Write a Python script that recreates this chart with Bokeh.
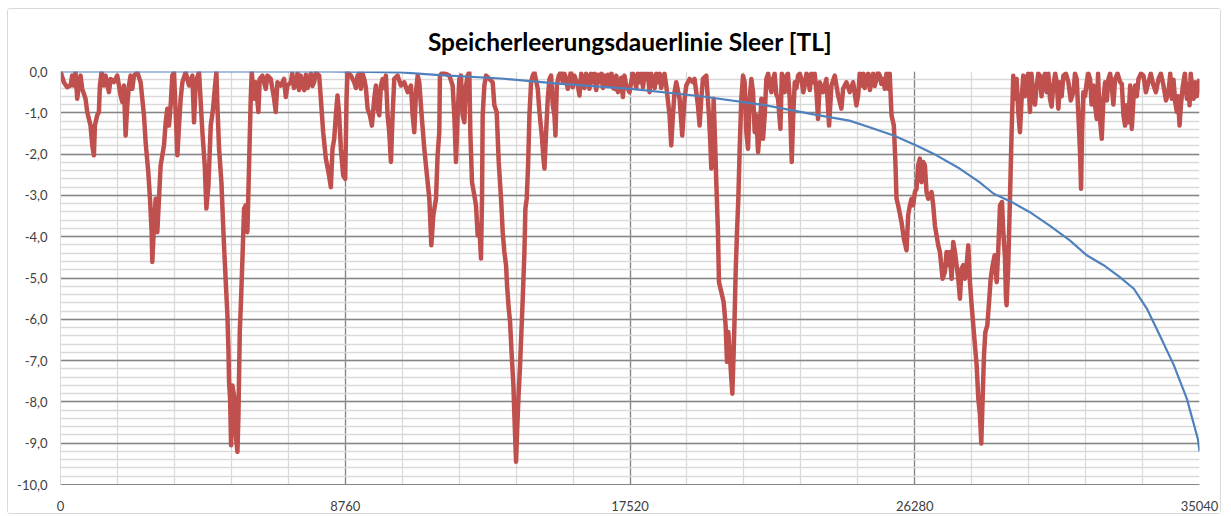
from bokeh.plotting import figure
from bokeh.models import Range1d, FixedTicker, CustomJSTickFormatter
from bokeh.embed import file_html
from bokeh.resources import INLINE

title_text = "Speicherleerungsdauerlinie Sleer [TL]"

x_tick_labels = [0, 8760, 17520, 26280, 35040]
y_tick_values = [0, -1, -2, -3, -4, -5, -6, -7, -8, -9, -10]

# red series: storage level over the hours of the period (main readings)
hours = [0, 103, 205, 308, 359, 411, 462, 514, 565, 616, 668, 770, 822, 924, 976, 1027, 1058, 1130, 1181, 1212,
         1263, 1335, 1386, 1489, 1541, 1643, 1746, 1849, 1900, 1951, 2003, 2054, 2105, 2157, 2208, 2259, 2362,
         2465, 2568, 2619, 2701, 2753, 2804, 2824, 2876, 2927, 2978, 3030, 3081, 3132, 3184, 3235, 3286, 3338,
         3389, 3440, 3492, 3543, 3595, 3646, 3697, 3749, 3851, 3954, 4057, 4108, 4160, 4262, 4365, 4437, 4488,
         4550, 4622, 4694, 4755, 4796, 4827, 4878, 4950, 5012, 5084, 5135, 5166, 5186, 5217, 5248, 5289, 5351,
         5392, 5443, 5474, 5515, 5556, 5597, 5648, 5700, 5749, 5801, 5852, 5883, 5955, 6006, 6088, 6129, 6212,
         6314, 6366, 6468, 6571, 6622, 6674, 6776, 6879, 6930, 6982, 7084, 7239, 7444, 7649, 7803, 7855, 7957,
         8009, 8081, 8163, 8245, 8317, 8368, 8420, 8471, 8522, 8574, 8625, 8697, 8759, 8800, 8830, 8933, 9036,
         9138, 9241, 9344, 9447, 9518, 9580, 9652, 9703, 9755, 9806, 9857, 9909, 10011, 10063, 10114, 10165,
         10217, 10268, 10371, 10474, 10576, 10679, 10782, 10833, 10884, 10936, 10987, 11038, 11110, 11192,
         11264, 11347, 11408, 11470, 11552, 11601, 11653, 11673, 11755, 11961, 12064, 12115, 12166, 12218,
         12269, 12320, 12372, 12423, 12474, 12526, 12577, 12608, 12659, 12731, 12782, 12834, 12885, 12936,
         12967, 12988, 13039, 13091, 13193, 13296, 13347, 13419, 13481, 13553, 13604, 13655, 13707, 13738,
         13789, 13830, 13881, 13933, 13963, 14015, 14046, 14087, 14138, 14179, 14220, 14272, 14302, 14343,
         14385, 14426, 14477, 14528, 14580, 14682, 14734, 14816, 14857, 14888, 14939, 14990, 15042, 15093,
         15145, 15196, 15227, 15268, 15329, 15453, 15555, 15607, 15658, 15812, 15915, 15966, 16069, 16223,
         16274, 16377, 16582, 16788, 16890, 17044, 17147, 17199, 17301, 17404, 17505, 17556, 17659, 17813,
         18018, 18121, 18224, 18378, 18532, 18634, 18737, 18788, 18840, 18891, 18943, 19045, 19127, 19199,
         19251, 19353, 19456, 19507, 19610, 19661, 19713, 19764, 19867, 19949, 19990, 20021, 20072, 20093,
         20144, 20175, 20226, 20257, 20329, 20401, 20462, 20504, 20545, 20586, 20637, 20668, 20709, 20740,
         20771, 20812, 20853, 20894, 20945, 20997, 21048, 21099, 21151, 21202, 21253, 21305, 21356, 21407,
         21459, 21510, 21561, 21613, 21664, 21715, 21818, 21921, 22075, 22147, 22229, 22332, 22434, 22496,
         22537, 22588, 22691, 22794, 22896, 22999, 23153, 23256, 23305, 23357, 23459, 23562, 23644, 23716,
         23819, 23922, 24024, 24076, 24178, 24281, 24384, 24486, 24538, 24640, 24795, 24949, 25103, 25205,
         25308, 25359, 25462, 25565, 25637, 25688, 25719, 25770, 25873, 25945, 26027, 26078, 26130, 26181,
         26232, 26284, 26335, 26386, 26438, 26489, 26540, 26592, 26643, 26694, 26797, 26849, 26900, 26951,
         27003, 27054, 27136, 27208, 27259, 27311, 27362, 27413, 27465, 27516, 27567, 27619, 27670, 27721,
         27773, 27824, 27876, 27927, 27978, 28030, 28081, 28132, 28184, 28235, 28286, 28327, 28368, 28410,
         28451, 28512, 28574, 28615, 28677, 28738, 28800, 28851, 28903, 28964, 29005, 29057, 29087, 29106,
         29157, 29209, 29260, 29311, 29363, 29414, 29465, 29517, 29568, 29620, 29722, 29825, 29928, 30030,
         30133, 30236, 30338, 30441, 30544, 30647, 30698, 30749, 30852, 31006, 31160, 31263, 31314, 31365,
         31396, 31427, 31468, 31571, 31674, 31776, 31828, 31879, 31961, 32033, 32084, 32136, 32239, 32341,
         32444, 32598, 32701, 32752, 32803, 32855, 32906, 32957, 33009, 33060, 33163, 33317, 33471, 33625,
         33779, 33933, 34087, 34190, 34292, 34344, 34426, 34467, 34529, 34652, 34734, 34806, 34857, 34908,
         35011, 35040]
sleer = [0, -0.26, -0.38, -0.34, -0.10, -0.34, -0.02, -0.66, -0.34, -0.10, -0.42, -0.66, -0.98, -1.31, -1.79,
         -2.03, -1.31, -1.06, -0.98, -0.34, -0.02, -0.34, -0.10, -0.50, -0.18, -0.26, -0.10, -0.58, -0.74, -0.34,
         -1.55, -0.82, -0.34, -0.10, -0.42, -0.10, -0.02, -0.26, -1.06, -1.71, -2.44, -3.08, -3.89, -4.61, -3.73,
         -3.08, -3.89, -3.08, -2.27, -2.03, -1.79, -1.23, -0.90, -1.31, -0.82, -0.10, -0.02, -0.98, -2.03, -1.31,
         -0.66, -0.26, -0.02, -0.34, -0.10, -1.23, -0.26, -0.02, -1.47, -2.27, -3.32, -2.76, -1.31, -0.90, -0.34,
         -0.02, -0.82, -1.87, -2.68, -3.89, -5.10, -5.90, -6.71, -7.52, -7.92, -9.05, -7.60, -7.92, -8.81, -9.21,
         -8.32, -6.31, -5.50, -4.53, -3.32, -3.24, -3.89, -2.27, -0.66, -0.02, -0.66, -0.26, -0.98, -0.18, -0.10,
         -0.42, -0.10, -0.18, -0.66, -0.98, -0.26, -0.34, -0.18, -0.62, -0.34, -0.26, -0.34, -0.30, -0.26, -0.26,
         -0.02, -0.10, -0.66, -1.47, -2.11, -2.44, -2.80, -1.87, -1.63, -1.06, -0.58, -1.06, -1.87, -2.52, -2.60,
         -0.66, -0.02, -0.10, -0.26, -0.10, -0.42, -0.18, -0.90, -1.06, -1.31, -0.66, -0.34, -0.90, -1.06, -0.34,
         -0.18, -0.10, -1.06, -1.47, -2.19, -1.06, -0.18, -0.10, -0.34, -0.26, -0.50, -0.34, -1.06, -1.47, -0.50,
         -0.10, -0.26, -1.06, -1.87, -2.44, -3.08, -4.21, -3.48, -3.08, -2.03, -1.47, -0.10, -0.02, -0.10, -0.34,
         -1.06, -2.19, -1.06, -0.18, -0.10, -1.06, -1.23, -0.34, -0.10, -0.02, -1.47, -2.68, -3.00, -3.24, -3.97,
         -3.73, -4.53, -3.08, -1.06, -0.34, -0.10, -0.18, -0.26, -0.82, -0.98, -2.19, -3.08, -3.89, -4.37, -4.69,
         -5.18, -5.74, -6.06, -6.87, -7.60, -8.32, -9.45, -8.73, -7.92, -7.11, -6.31, -5.50, -4.37, -3.32, -3.08,
         -2.27, -1.06, -0.26, -0.10, -0.02, -0.42, -0.98, -1.63, -2.11, -2.35, -1.47, -0.66, -0.18, -0.10, -0.82,
         -1.06, -1.55, -0.34, -0.10, -0.26, -0.18, -0.42, -0.18, -0.10, -0.34, -0.58, -0.26, -0.18, -0.42, -0.26,
         -0.26, -0.34, -0.34, -0.42, -0.50, -0.42, -0.62, -0.34, -0.50, -0.26, -0.18, -0.26, -0.18, -0.50, -0.18,
         -0.26, -0.18, -0.34, -1.06, -1.79, -1.06, -0.50, -0.26, -0.66, -1.55, -0.66, -0.34, -0.18, -0.26, -0.18,
         -0.82, -1.31, -0.66, -0.18, -0.10, -1.06, -1.71, -2.35, -1.47, -0.66, -1.87, -2.68, -3.89, -5.10, -5.34,
         -5.58, -6.15, -7.03, -6.31, -6.79, -7.44, -7.80, -6.79, -5.90, -4.85, -3.89, -3.08, -1.87, -0.66, -0.10,
         -0.26, -1.47, -1.87, -0.66, -0.18, -0.50, -1.47, -1.06, -1.95, -1.47, -0.66, -1.63, -1.06, -0.18, -0.34,
         -0.18, -0.66, -1.39, -0.34, -0.10, -0.66, -2.19, -1.15, -0.26, -0.10, -0.18, -0.34, -0.10, -0.26, -0.50,
         -1.15, -0.26, -0.50, -0.18, -1.31, -0.34, -0.10, -0.58, -0.90, -0.42, -0.26, -0.50, -0.26, -0.82, -0.58,
         -0.34, -0.18, -0.26, -0.18, -0.10, -0.18, -0.42, -0.42, -1.06, -1.31, -2.27, -3.08, -3.24, -3.65, -4.05,
         -4.33, -3.48, -3.24, -3.08, -3.24, -2.92, -2.84, -2.27, -2.11, -2.68, -2.19, -2.27, -2.92, -3.08, -2.92,
         -3.24, -3.73, -3.97, -4.21, -4.37, -5.02, -4.85, -4.37, -4.69, -4.37, -5.02, -4.13, -4.37, -4.69, -5.02,
         -5.50, -4.77, -4.69, -5.02, -4.69, -4.21, -5.10, -5.66, -6.15, -6.63, -7.11, -7.92, -8.32, -9.01, -7.92,
         -6.87, -6.31, -6.15, -5.50, -5.02, -4.69, -4.45, -5.10, -4.29, -3.24, -3.16, -3.89, -4.53, -5.50, -5.66,
         -4.69, -3.08, -1.47, -0.10, -0.66, -0.18, -0.98, -1.47, -0.66, -0.10, -0.18, -0.98, -0.66, -0.34, -0.10,
         -0.18, -0.50, -0.66, -0.34, -0.26, -0.90, -0.26, -0.10, -0.26, -0.50, -0.18, -1.06, -1.95, -2.84, -1.47,
         -0.50, -0.26, -0.18, -0.34, -0.82, -1.15, -0.98, -1.63, -0.66, -0.26, -0.18, -0.34, -0.18, -0.26, -1.06,
         -1.31, -0.82, -1.23, -0.34, -1.39, -0.66, -0.34, -0.18, -0.10, -0.26, -0.34, -0.18, -0.34, -0.50, -0.66,
         -0.74, -0.98, -1.31, -0.82, -0.34, -0.66, -0.82, -0.34, -0.66, -0.26, -0.34, -0.18]

# red series: extra readings of the dense shallow flicker near the top
comb_hours = [7130, 7180, 7290, 7340, 7390, 7500, 7550, 7600, 7700, 7750,
              9090, 9190, 9290, 9395, 9960,
              15390, 15500, 15700, 15760, 16020, 16120, 16170, 16320, 16430, 16480, 16530, 16640, 16690,
              16740, 16840, 16950, 17000, 17100, 17250, 17350,
              17610, 17710, 17760, 17870, 17920, 17970, 18070, 18170, 18280, 18330, 18430, 18480, 18580,
              21770, 21870, 21970, 22020, 22190, 22280, 22380, 22640, 22740, 22850, 22950, 23050, 23100, 23200,
              24590, 24700, 24740, 24850, 24900, 25000, 25050, 25150, 25250, 25410, 25510,
              29670, 29770, 29870, 29980, 30080, 30180, 30290, 30390, 30490, 30600, 30800, 30930, 31080,
              31210, 31520, 31620, 31720, 31920, 32190, 32290, 32390, 32520, 32650, 33110, 33240, 33390,
              33540, 33700, 33850, 34010, 34140, 34240, 34380, 34590, 34700, 34770, 34960]
comb_vals = [-0.05, -0.40, -0.05, -0.45, -0.10, -0.45, -0.08, -0.40, -0.05, -0.35,
             -0.40, -0.05, -0.05, -0.40, -0.40,
             -0.02, -0.05, -0.02, -0.38, -0.05, -0.40, -0.05, -0.05, -0.05, -0.45, -0.08, -0.05, -0.40,
             -0.10, -0.08, -0.05, -0.40, -0.10, -0.15, -0.10,
             -0.05, -0.40, -0.05, -0.05, -0.38, -0.05, -0.05, -0.05, -0.40, -0.05, -0.05, -0.40, -0.05,
             -0.05, -0.50, -0.05, -0.55, -0.05, -0.50, -0.05, -0.40, -0.05, -0.50, -0.05, -0.45, -0.05, -0.05,
             -0.05, -0.05, -0.40, -0.05, -0.45, -0.05, -0.35, -0.02, -0.30, -0.05, -0.05,
             -0.60, -0.05, -0.05, -0.80, -0.05, -0.60, -0.05, -0.05, -0.85, -0.05, -0.60, -0.05, -0.70,
             -0.05, -0.60, -0.05, -0.80, -0.05, -0.70, -0.05, -0.80, -0.05, -0.30, -0.60, -0.05, -0.50,
             -0.05, -0.50, -0.05, -0.70, -0.05, -0.20, -0.60, -0.05, -0.30, -0.05, -0.60]

# blue series: duration curve (sorted)
dur_hours = [0, 8300, 10470, 11550, 13550, 15400, 17560, 19710, 21560, 23250, 24270, 24890, 25630, 26330,
             26950, 27660, 28270, 28710, 29260, 29810, 30430, 31050, 31570, 32090, 32590, 33020, 33420,
             33820, 34250, 34650, 34990, 35040]
dur_vals = [0, 0, -0.02, -0.08, -0.17, -0.30, -0.42, -0.60, -0.80, -1.05, -1.19, -1.35, -1.55, -1.79, -2.03,
            -2.35, -2.68, -2.96, -3.16, -3.40, -3.73, -4.09, -4.45, -4.69, -4.98, -5.26, -5.74, -6.39, -7.11,
            -7.92, -8.90, -9.20]

merged = sorted(zip(hours + comb_hours, sleer + comb_vals))
red_x = [m[0] for m in merged]
red_y = [m[1] for m in merged]

p = figure(width=1214, height=506, output_backend="svg", toolbar_location=None,
           x_range=Range1d(0, 35040), y_range=Range1d(-10, 0),
           min_border_left=52, min_border_right=23, min_border_top=62, min_border_bottom=31,
           title=title_text)
p.styles = {"border": "1px solid #d9d9d9", "border-radius": "3px",
            "margin-left": "7px", "margin-top": "8px"}
p.title.align = "center"
p.title.text_font = "Lato"
p.title.text_font_size = "24.5px"
p.title.text_font_style = "bold"
p.title.text_color = "#000000"
p.title.standoff = 31

p.outline_line_color = None
p.background_fill_color = "white"

minor_x = [1752 * k for k in range(21)]
minor_y = [-0.2 * k for k in range(51)]
p.xaxis.ticker = FixedTicker(ticks=x_tick_labels, minor_ticks=minor_x)
p.yaxis.ticker = FixedTicker(ticks=y_tick_values, minor_ticks=minor_y)
p.xgrid.ticker = FixedTicker(ticks=[8760, 17520, 26280], minor_ticks=minor_x)
p.ygrid.ticker = FixedTicker(ticks=y_tick_values, minor_ticks=minor_y)

p.xgrid.grid_line_color = "#868686"
p.xgrid.grid_line_width = 1.3
p.xgrid.minor_grid_line_color = "#d9d9d9"
p.xgrid.minor_grid_line_width = 1.3
p.ygrid.grid_line_color = "#868686"
p.ygrid.grid_line_width = 1.3
p.ygrid.minor_grid_line_color = "#d9d9d9"
p.ygrid.minor_grid_line_width = 1.3

p.yaxis.formatter = CustomJSTickFormatter(code="return tick.toFixed(1).replace('.', ',');")
p.xaxis.formatter = CustomJSTickFormatter(code="return tick.toFixed(0);")
for ax in (p.xaxis, p.yaxis):
    ax.major_tick_line_color = None
    ax.minor_tick_line_color = None
    ax.major_label_text_font = "Lato"
    ax.major_label_text_font_size = "13px"
    ax.major_label_text_color = "#404040"
p.yaxis.axis_line_color = "#d9d9d9"
p.xaxis.axis_line_color = "#868686"
p.xaxis.major_label_standoff = 10
p.yaxis.major_label_standoff = 7

p.line(red_x, red_y, line_color="#c0504d", line_width=4.5, line_join="round")
p.line(dur_hours, dur_vals, line_color="#4f81bd", line_width=2.2, line_join="round")

open("out.html", "w").write(file_html(p, INLINE))
